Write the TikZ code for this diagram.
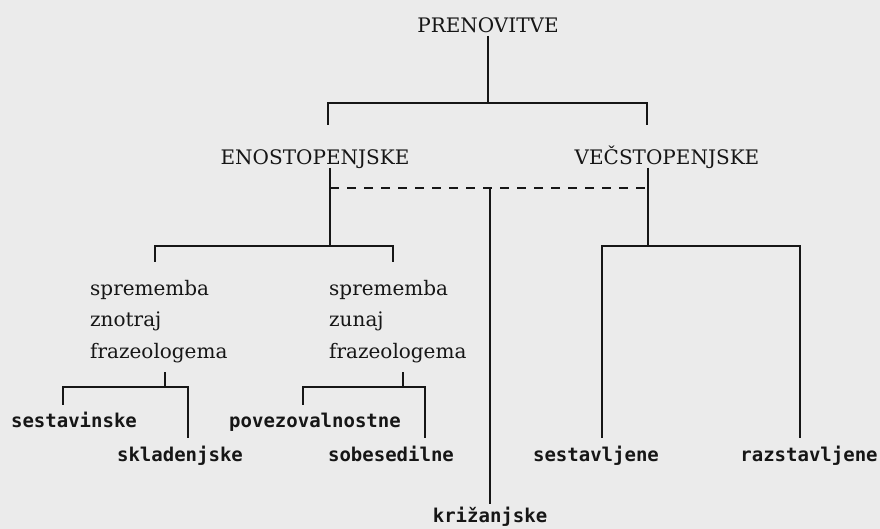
\documentclass[tikz,border=0pt]{standalone}
\usepackage{fontspec}
\setmainfont{DejaVu Serif}
\newfontfamily\leaffont{DejaVu Sans Mono}
\usepackage{tikz}
\definecolor{paper}{HTML}{EBEBEB}
\definecolor{ink}{HTML}{161616}
\tikzset{
  heading/.style={
    font=\fontsize{20}{24}\selectfont, text=ink,
    text height=14.6pt, text depth=0pt,
  },
  gloss/.style={
    font=\fontsize{20}{31.5}\selectfont, text=ink,
    align=left, inner sep=0pt, anchor=north west,
  },
  leaf/.style={
    font=\leaffont\bfseries\fontsize{19}{21}\selectfont, text=ink,
    text height=13pt, text depth=4pt,
  },
  tree/.style={draw=ink, line width=2pt},
  optlink/.style={tree, dash pattern=on 9pt off 8pt},
}

\begin{document}
\begin{tikzpicture}[x=1pt, y=-1pt]
  \useasboundingbox[fill=paper] (0,0) rectangle (880,529);

  % headings
  \node[heading] (prenov) at (488,25) {PRENOVITVE};
  \node[heading] (eno) at (315,157) {ENOSTOPENJSKE};
  \node[heading] (vec) at (667,157) {VEČSTOPENJSKE};

  \node[gloss] (spzl) at (90,280) {sprememba\\znotraj\\frazeologema};
  \node[gloss] (spzu) at (329,280) {sprememba\\zunaj\\frazeologema};

  % leaves
  \node[leaf] (sestavinske) at (74,423) {sestavinske};
  \node[leaf] (skladenjske) at (180,457) {skladenjske};
  \node[leaf] (povez) at (315,423) {povezovalnostne};
  \node[leaf] (sobes) at (391,457) {sobesedilne};
  \node[leaf] (kriz) at (490,518) {križanjske};
  \node[leaf] (sestv) at (596,457) {sestavljene};
  \node[leaf] (razst) at (809,457) {razstavljene};

  % branch points
  \coordinate (eno-in) at (328,125);
  \coordinate (vec-in) at (647,125);
  \coordinate (eno-br) at (330,246);
  \coordinate (vec-br) at (648,246);
  \coordinate (opt) at (490,188);
  \coordinate (spzl-in) at (155,262);
  \coordinate (spzu-in) at (393,262);
  \coordinate (spzl-br) at (165,387);
  \coordinate (spzu-br) at (403,387);
  \coordinate (sestavinske-in) at (63,405);
  \coordinate (skladenjske-in) at (188,438);
  \coordinate (povez-in) at (303,405);
  \coordinate (sobes-in) at (425,438);
  \coordinate (sestv-in) at (602,438);
  \coordinate (razst-in) at (800,438);

  \draw[tree] (prenov.south) -- ++(0,67) -| (eno-in);
  \draw[tree] (prenov.south) ++(0,67) -| (vec-in);

  \draw[tree] (eno.south -| eno-br) -- (eno-br) -| (spzl-in);
  \draw[tree] (eno-br) -| (spzu-in);
  \draw[tree] (vec.south -| vec-br) -- (vec-br) -| (sestv-in);
  \draw[tree] (vec-br) -| (razst-in);

  \draw[optlink] (eno-br |- opt) -- (vec-br |- opt);
  \draw[tree] (opt) -- ([yshift=2pt]kriz.north);

  \draw[tree, shorten <=9pt] (spzl.south -| spzl-br) -- (spzl-br) -| (sestavinske-in);
  \draw[tree] (spzl-br) -| (skladenjske-in);
  \draw[tree, shorten <=9pt] (spzu.south -| spzu-br) -- (spzu-br) -| (povez-in);
  \draw[tree] (spzu-br) -| (sobes-in);

\end{tikzpicture}
\end{document}
